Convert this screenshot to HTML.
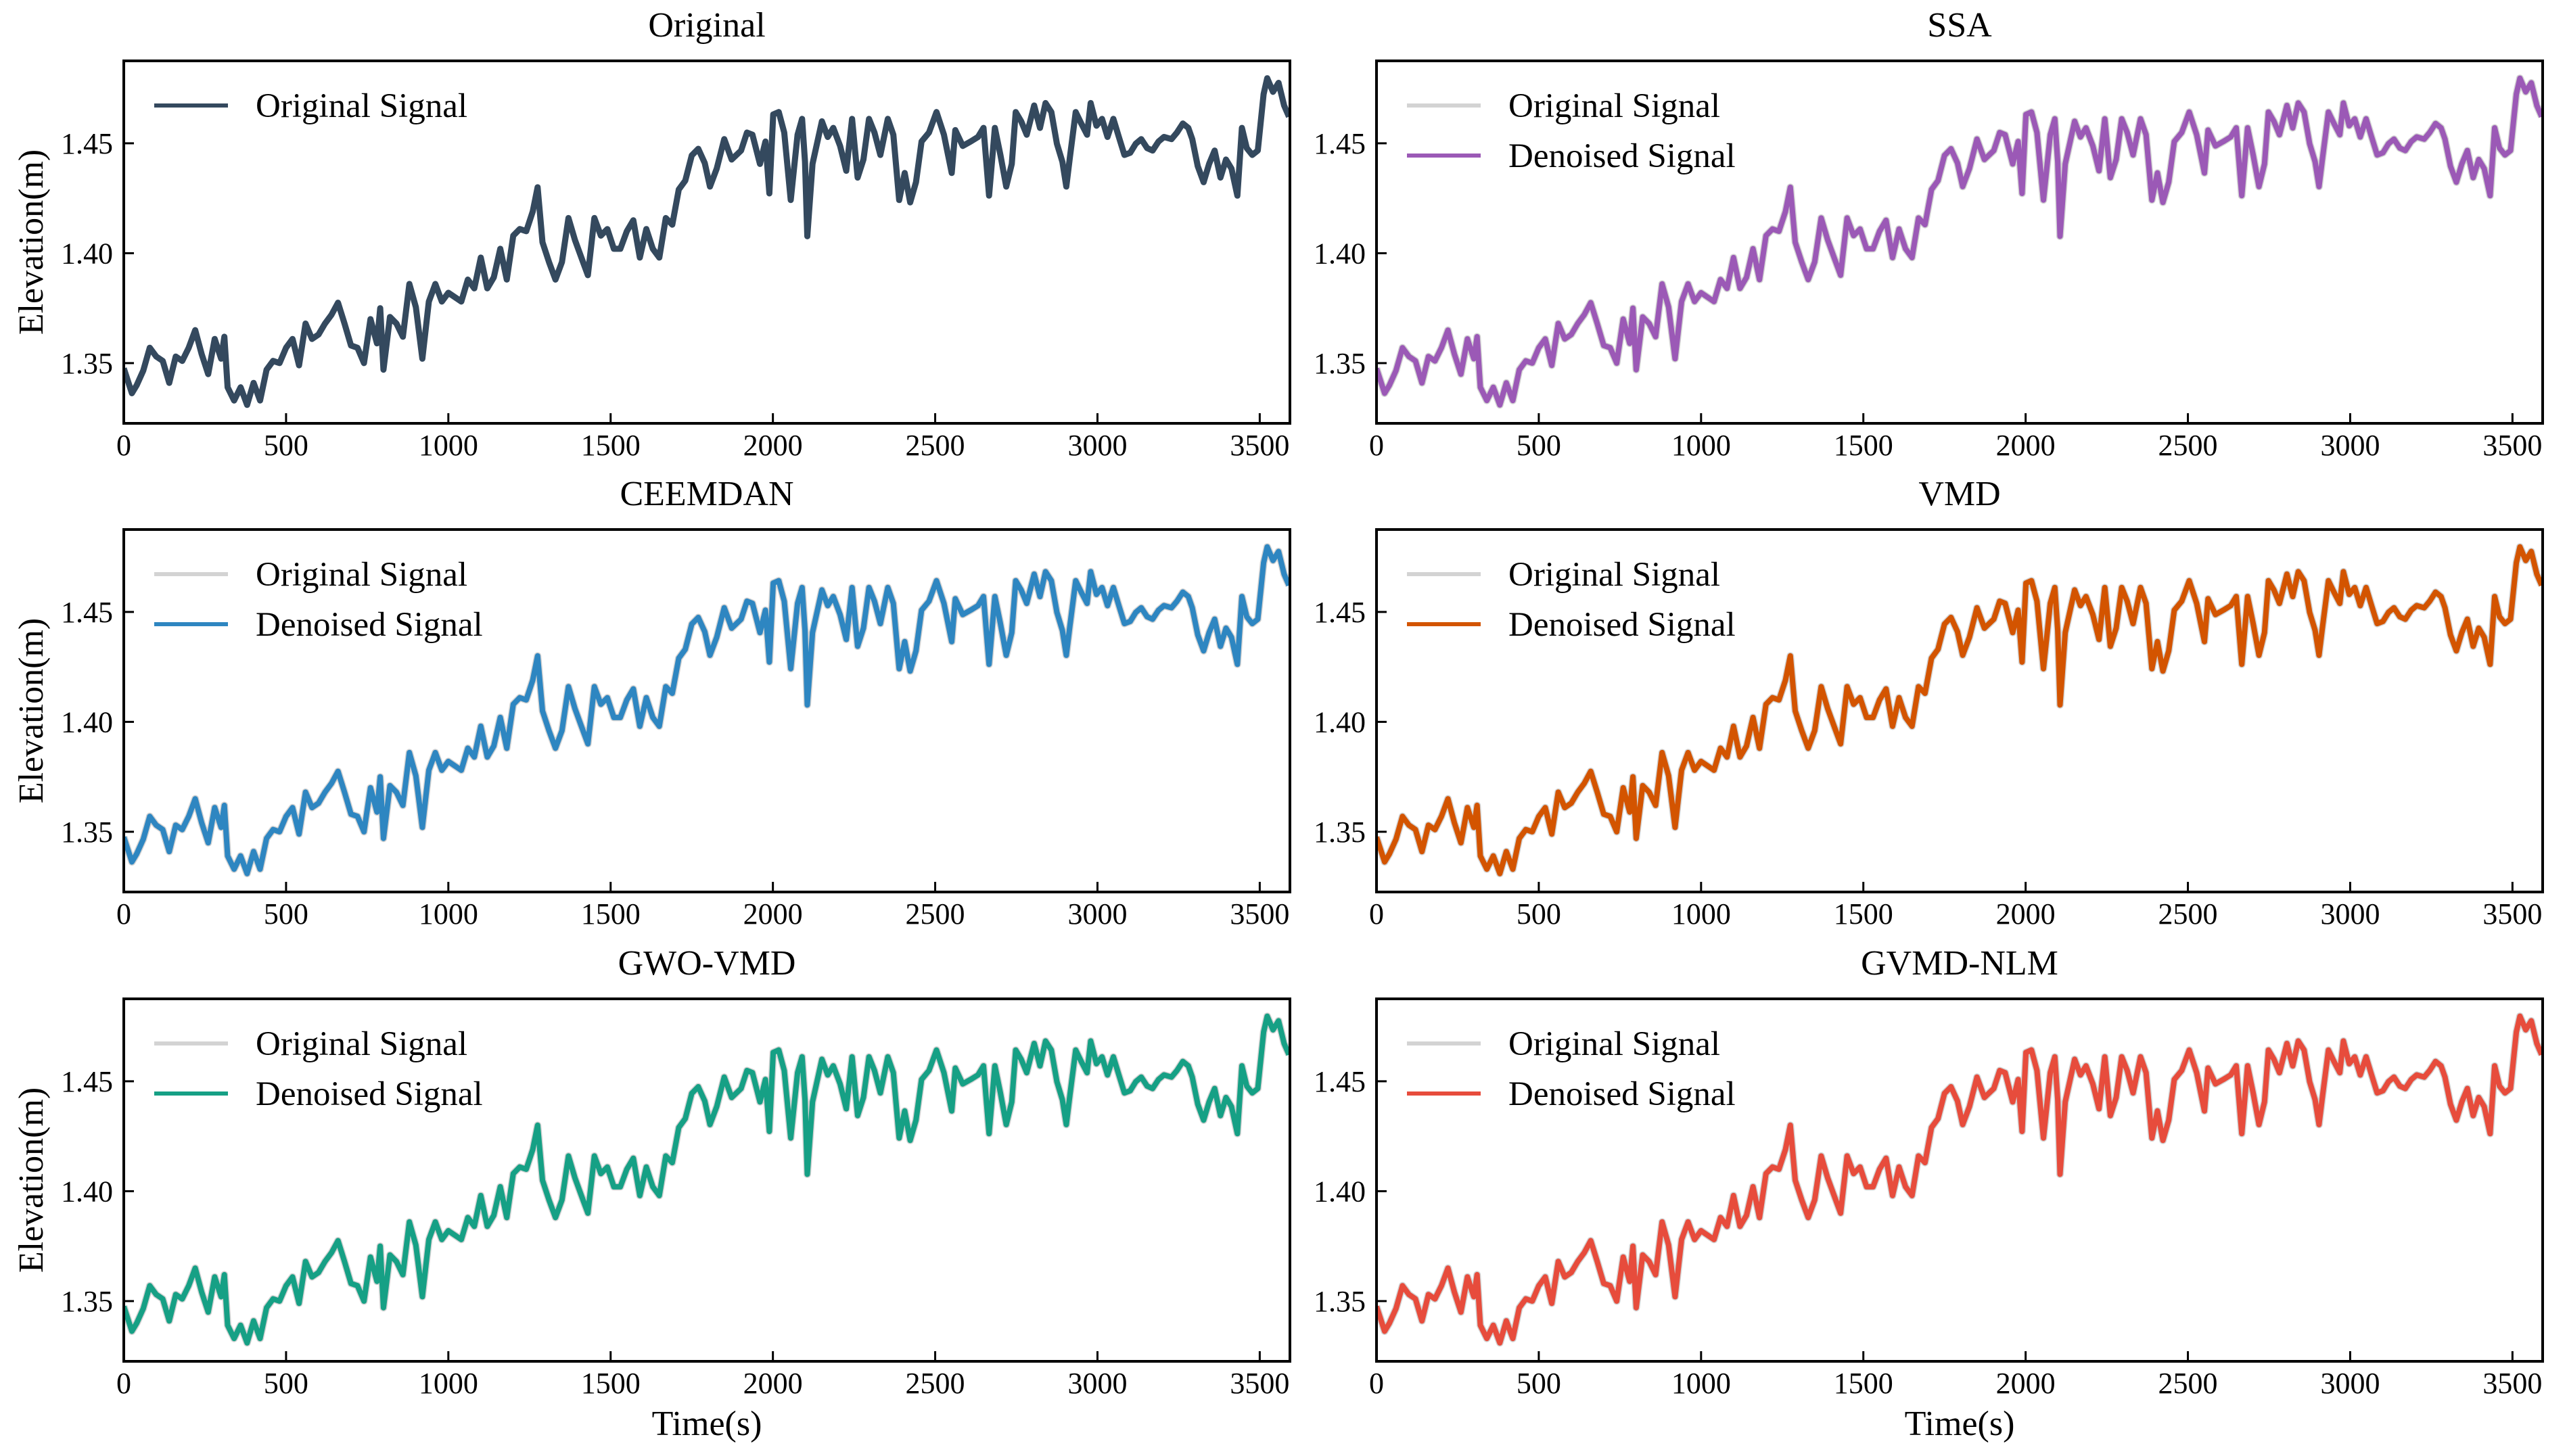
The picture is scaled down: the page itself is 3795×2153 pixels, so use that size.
<!DOCTYPE html>
<html><head><meta charset="utf-8">
<style>
html,body{margin:0;padding:0;background:#fff;}
svg{display:block;font-family:"Liberation Serif","Times New Roman",serif;}
</style></head>
<body>
<svg id="fig" width="3795" height="2153" viewBox="0 0 3795 2153" xmlns="http://www.w3.org/2000/svg"></svg>
<script>
// ---- data ----
const origTimes = [0,25,40,60,80,100,120,140,160,180,200,220,240,260,280,300,310,320,340,360,380,400,420,440,460,480,500,520,540,560,580,600,620,640,660,680,700,720,740,760,780,790,800,820,840,860,880,900,920,940,960,980,1000,1020,1040,1060,1080,1100,1120,1140,1160,1180,1200,1220,1240,1260,1275,1290,1310,1330,1350,1370,1390,1410,1430,1450,1470,1490,1510,1530,1550,1570,1590,1610,1630,1650,1670,1690,1710,1730,1750,1770,
1790,1806,1827,1850,1873,1902,1920,1937,1960,1977,1989,2001,2018,2035,2055,2076,2090,2099,2106,2122,2151,2169,2186,2207,2226,2244,2261,2279,2296,2313,2331,2354,2371,2389,2406,2423,2441,2458,2481,2504,2527,2551,2562,2585,2609,2632,2649,2666,2684,2701,2719,2736,2748,2765,2782,2805,2823,2840,2858,2875,2892,2904,2915,2933,2950,2968,2979,2997,3014,3031,3049,3066,3083,3101,3118,3135,3153,3170,3188,3205,3228,3245,3263,3280,3292,3309,3327,3344,3361,3379,3396,3413,3431,3445,3460,3477,3494,3512,3523,3541,3558,3575,3590];
const origValues = [1.3476,1.3363,1.340,1.3466,1.357,1.353,1.351,1.341,1.353,1.351,1.357,1.365,1.354,1.345,1.361,1.352,1.362,1.339,1.333,1.339,1.331,1.341,1.333,1.347,1.351,1.350,1.357,1.361,1.349,1.368,1.361,1.363,1.368,1.372,1.3775,1.368,1.358,1.357,1.350,1.370,1.359,1.375,1.347,1.371,1.368,1.362,1.386,1.3755,1.352,1.378,1.386,1.378,1.382,1.380,1.378,1.388,1.384,1.398,1.384,1.389,1.402,1.388,1.408,1.411,1.410,1.419,1.430,1.405,1.396,1.388,1.396,1.416,1.406,1.398,1.390,1.416,1.408,1.411,1.402,1.402,1.410,1.415,1.398,1.411,1.402,1.398,1.416,1.413,1.429,1.433,1.4445,1.4475,
1.441,1.4303,1.4385,1.4519,1.4426,1.4467,1.4549,1.4539,1.4406,1.4508,1.4272,1.4631,1.4642,1.4549,1.4242,1.4539,1.4611,1.4416,1.4077,1.4406,1.46,1.4529,1.4570,1.4488,1.4375,1.4611,1.4344,1.4426,1.4611,1.4549,1.4447,1.4611,1.4539,1.4242,1.4365,1.4231,1.4323,1.4508,1.4549,1.4642,1.4539,1.4365,1.456,1.4488,1.4508,1.4529,1.4570,1.4262,1.4570,1.4447,1.4303,1.4406,1.4642,1.46,1.4539,1.4672,1.4570,1.4683,1.4642,1.4498,1.4416,1.4303,1.4436,1.4642,1.459,1.4539,1.4683,1.4580,1.4611,1.4529,1.4611,1.4529,1.4447,1.4457,1.4498,1.4519,1.4478,1.4467,1.4508,1.4529,1.4519,1.4549,1.459,1.457,1.4519,1.4396,1.4323,1.4406,1.4467,1.4344,1.4426,1.4385,1.4262,1.4570,1.4478,1.4447,1.4467,1.4724,1.4796,1.4734,1.4775,1.4672,1.4621];
const ssaValues = origValues.slice();
const ceemdanValues = origValues.slice();
const vmdValues = origValues.slice();
const gwoValues = origValues.slice();
const nlmValues = origValues.slice();
const xTicks = [0,500,1000,1500,2000,2500,3000,3500];
const yTicks = [1.35,1.40,1.45];
const yTickLabels = ["1.35","1.40","1.45"];
const xDomain = [0,3593];
const yDomain = [1.3226,1.4875];

const panels = [
  {title:"Original", col:0,row:0, color:"#34495e", den:null, main:origValues, name:"original"},
  {title:"SSA", col:1,row:0, color:"#9b59b6", den:ssaValues, name:"ssa"},
  {title:"CEEMDAN", col:0,row:1, color:"#2e86c1", den:ceemdanValues, name:"ceemdan"},
  {title:"VMD", col:1,row:1, color:"#d35400", den:vmdValues, name:"vmd"},
  {title:"GWO-VMD", col:0,row:2, color:"#16a085", den:gwoValues, name:"gwo-vmd"},
  {title:"GVMD-NLM", col:1,row:2, color:"#e74c3c", den:nlmValues, name:"gvmd-nlm"}
];
const colX = [183,2035], rowY = [90,783,1477], PW = 1724, PH = 536;
const NS = "http://www.w3.org/2000/svg";
const svg = document.getElementById('fig');
function mk(tag, attrs, parent){const e=document.createElementNS(NS,tag);for(const k in attrs)e.setAttribute(k,attrs[k]);(parent||svg).appendChild(e);return e;}

panels.forEach(p=>{
  const L = colX[p.col], T = rowY[p.row];
  const xs = t => L + (t - xDomain[0])/(xDomain[1]-xDomain[0])*PW;
  const ys = v => T + (yDomain[1]-v)/(yDomain[1]-yDomain[0])*PH;
  const g = mk('g',{});
  
  
  const clipId = 'clip-'+p.name;
  const cp = mk('clipPath',{id:clipId},g); mk('rect',{x:L,y:T,width:PW,height:PH},cp);
  const pathOf = vals => vals.map((v,i)=>(i?'L':'M')+xs(origTimes[i]).toFixed(1)+' '+ys(v).toFixed(1)).join(' ');
  if(p.den){
    const o = mk('path',{d:pathOf(origValues),fill:'none',stroke:'#d3d3d3','stroke-width':11,'stroke-linejoin':'round','clip-path':'url(#'+clipId+')'},g);
    
    
    const d = mk('path',{d:pathOf(p.den),fill:'none',stroke:p.color,'stroke-width':8,'stroke-linejoin':'round','clip-path':'url(#'+clipId+')'},g);
    
    
  } else {
    const o = mk('path',{d:pathOf(p.main),fill:'none',stroke:p.color,'stroke-width':9,'stroke-linejoin':'round','clip-path':'url(#'+clipId+')'},g);
    
    
  }
  const fr = mk('rect',{x:L,y:T,width:PW,height:PH,fill:'none',stroke:'#000','stroke-width':4},g);
  
  
  xTicks.forEach(t=>{
    const x = xs(t);
    mk('line',{x1:x,x2:x,y1:T+PH,y2:T+PH-15,stroke:'#000','stroke-width':3},g);
    const tx = mk('text',{x:x,y:T+PH+47,'font-size':44,'text-anchor':'middle',fill:'#000'},g);
    tx.textContent = t;
    
    
  });
  yTicks.forEach((v,i)=>{
    const y = ys(v);
    mk('line',{x1:L,x2:L+15,y1:y,y2:y,stroke:'#000','stroke-width':3},g);
    const ty = mk('text',{x:L-16,y:y+15,'font-size':44,'text-anchor':'end',fill:'#000'},g);
    ty.textContent = yTickLabels[i];
    
    
  });
  const tt = mk('text',{x:L+PW/2,y:T-36,'font-size':52,'text-anchor':'middle',fill:'#000'},g);
  tt.textContent = p.title;
  
  
  const lg = mk('g',{},g);
  
  
  const entries = p.den ? [["Original Signal","#d3d3d3"],["Denoised Signal",p.color]] : [["Original Signal",p.color]];
  entries.forEach((e,i)=>{
    const y = T+66+i*74;
    mk('line',{x1:L+45,x2:L+154,y1:y,y2:y,stroke:e[1],'stroke-width':6},lg);
    const lt = mk('text',{x:L+195,y:y+17,'font-size':51,fill:'#000'},lg);
    lt.textContent = e[0];
    
    
  });
  if(p.col===0){
    const yl = mk('text',{x:0,y:0,'font-size':52,'text-anchor':'middle',fill:'#000',transform:'translate(63,'+(T+PH/2)+') rotate(-90)'},g);
    yl.textContent = "Elevation(m)";
    
    
  }
  if(p.row===2){
    const xl = mk('text',{x:L+PW/2,y:2122,'font-size':52,'text-anchor':'middle',fill:'#000'},g);
    xl.textContent = "Time(s)";
    
    
  }
});
</script>
</body></html>
